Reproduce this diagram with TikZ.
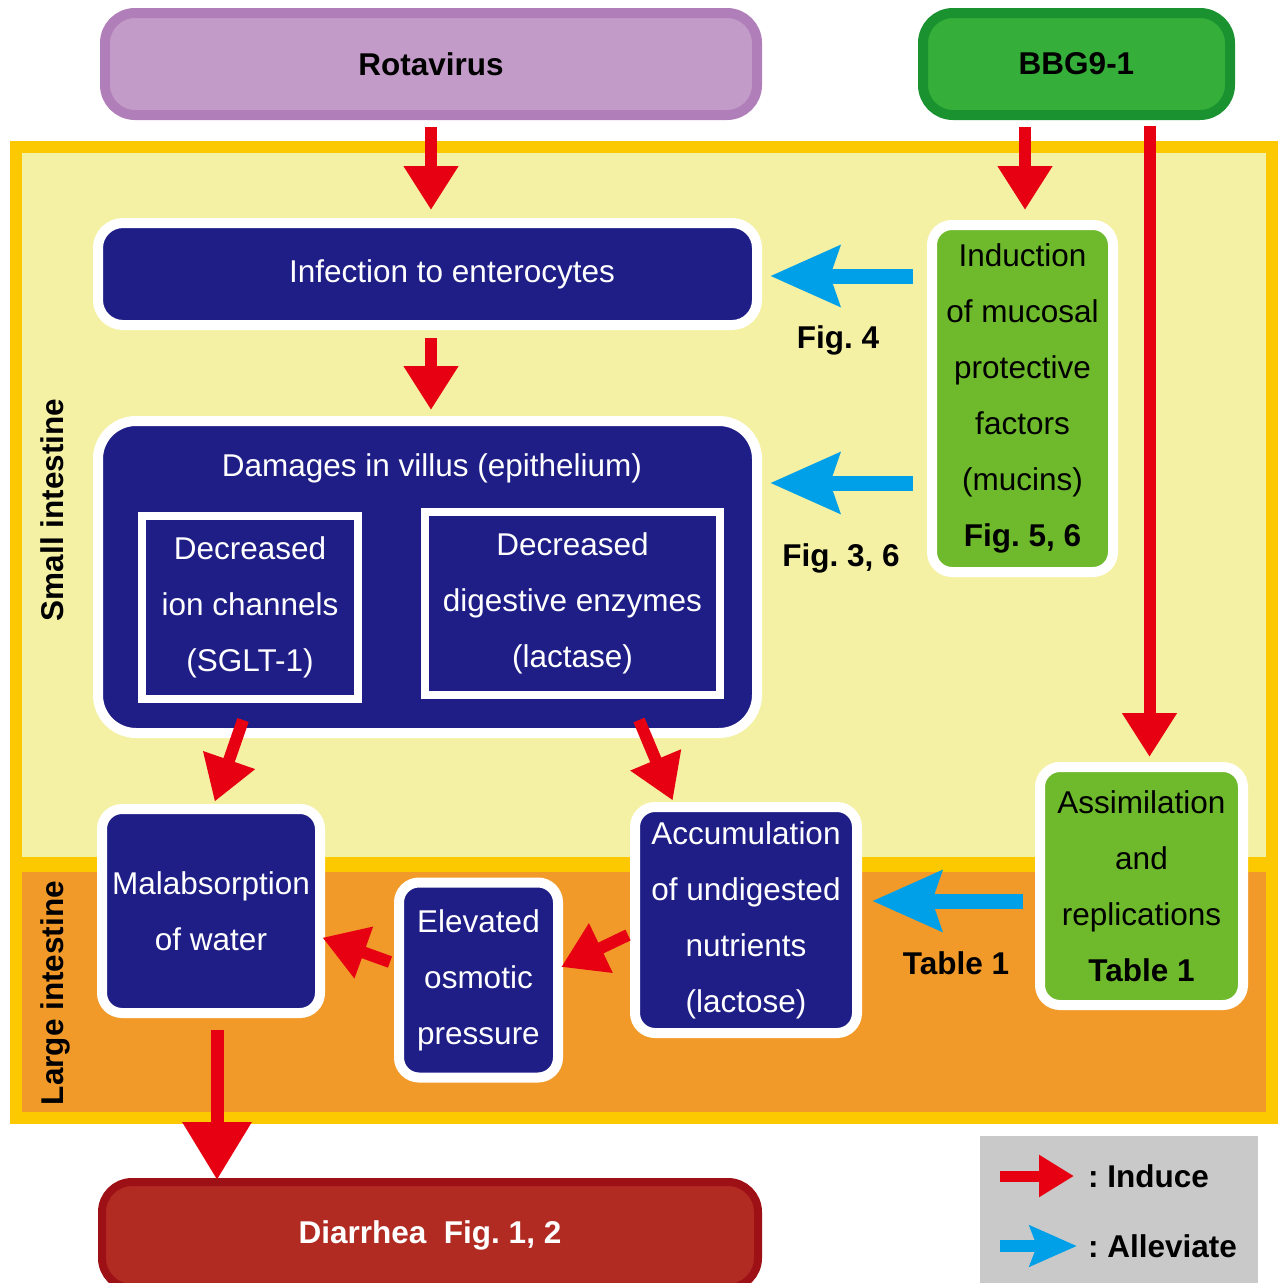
\documentclass[tikz,border=0pt]{standalone}
\usepackage{fontspec}
\setmainfont{Liberation Sans}
\usetikzlibrary{arrows.meta,calc}
\definecolor{navy}{RGB}{31,30,135}
\definecolor{purplefill}{RGB}{195,155,201}
\definecolor{purpleborder}{RGB}{176,126,184}
\definecolor{greenfill}{RGB}{53,174,58}
\definecolor{greenborder}{RGB}{26,146,48}
\definecolor{lgreen}{RGB}{110,185,44}
\definecolor{ired}{RGB}{230,0,18}
\definecolor{iblue}{RGB}{0,160,233}
\definecolor{yborder}{RGB}{252,200,0}
\definecolor{lyellow}{RGB}{245,241,164}
\definecolor{orangebg}{RGB}{241,154,42}
\definecolor{diafill}{RGB}{178,43,34}
\definecolor{diaborder}{RGB}{156,16,22}
\definecolor{lgray}{RGB}{201,201,201}
\newcommand\dfont{\fontsize{31.5pt}{56pt}\selectfont\frenchspacing}
\begin{document}
\begin{tikzpicture}[x=1pt,y=-1pt,
  navybox/.style={draw=white, line width=10pt, fill=navy, text=white, rounded corners=25pt, inner sep=0pt, align=center, font=\dfont},
  innerbox/.style={draw=white, line width=8pt, fill=navy, text=white, inner sep=0pt, align=center, font=\dfont},
  greenbox/.style={draw=white, line width=10pt, fill=lgreen, text=black, rounded corners=20pt, inner sep=0pt, align=center, font=\dfont},
  topbox/.style={line width=10pt, rounded corners=30pt, inner sep=0pt, align=center, font=\dfont\bfseries},
  figlabel/.style={font=\dfont\bfseries, inner sep=0pt, anchor=base},
  sidelabel/.style={font=\dfont\bfseries, inner sep=0pt, rotate=90, anchor=base},
  redarr/.style={draw=ired, line width=12pt, shorten >=-7pt, -{Triangle[length=44pt,width=52pt]}},
  bigredarr/.style={draw=ired, line width=13pt, shorten >=-7pt, -{Triangle[length=58pt,width=66pt]}},
  bluearr/.style={draw=iblue, line width=15pt, shorten >=-7pt, -{Stealth[length=69pt,width=59pt,inset=9pt]}},
  legtext/.style={font=\dfont\bfseries, inner sep=0pt, anchor=west}
]
\useasboundingbox (0,0) rectangle (1280,1283);
\fill[white] (0,0) rectangle (1280,1283);
% regions
\fill[yborder] (10,141) rectangle (1278,1124);
\fill[lyellow] (22,153) rectangle (1266,857);
\fill[orangebg] (22,872) rectangle (1266,1112);
\node[sidelabel] (small) at (63,510) {Small intestine};
\node[sidelabel] (large) at (63,993) {Large intestine};
% top boxes
\node[topbox, draw=purpleborder, fill=purplefill, minimum width=652pt, minimum height=102pt] (rota) at (431,64) {Rotavirus};
\node[topbox, draw=greenborder, fill=greenfill, minimum width=307pt, minimum height=102pt] (bbg) at (1076.5,64) {BBG9-1};
% main boxes
\node[navybox, minimum width=659pt, minimum height=102pt] (inf) at (427.5,274) {\hspace*{49pt}Infection to enterocytes};
\node[navybox, rounded corners=38pt, minimum width=659pt, minimum height=312pt] (dam) at (427.5,577) {};
\node[font=\dfont, text=white, inner sep=0pt] (damt) at (432,468) {Damages in villus (epithelium)};
\node[innerbox, minimum width=216pt, minimum height=183pt] (ion) at (250,607.5) {Decreased\\ion channels\\(SGLT-1)};
\node[innerbox, minimum width=295pt, minimum height=183pt] (dig) at (572.5,603.5) {Decreased\\digestive enzymes\\(lactase)};
\node[greenbox, minimum width=181pt, minimum height=347pt] (ind) at (1022.5,398.5) {Induction\\of mucosal\\protective\\factors\\(mucins)\\\textbf{Fig. 5, 6}};
\node[greenbox, minimum width=203pt, minimum height=238pt] (asm) at (1141.5,886) {Assimilation\\and\\replications\\\textbf{Table 1}};
\node[navybox, rounded corners=20pt, minimum width=218pt, minimum height=204pt] (mal) at (211,911) {Malabsorption\\of water};
\node[navybox, rounded corners=20pt, minimum width=159pt, minimum height=195pt] (elev) at (478.5,980) {Elevated\\osmotic\\pressure};
\node[navybox, rounded corners=20pt, minimum width=222pt, minimum height=226pt] (acc) at (746,920) {Accumulation\\of undigested\\nutrients\\(lactose)};
\node[topbox, line width=8pt, draw=diaborder, fill=diafill, text=white, minimum width=656pt, minimum height=106pt] (dia) at (430,1235) {Diarrhea\ \ Fig. 1, 2};
% figure labels
\node[figlabel] (f4) at (838,348) {Fig. 4};
\node[figlabel] (f36) at (841,566) {Fig. 3, 6};
\node[figlabel] (t1) at (956,974) {Table 1};
% red arrows
\draw[redarr] ($(rota.south)+(0,7)$) -- ($(rota.south |- inf.north)+(0,-15)$);
\draw[redarr] ($(inf.south)+(3.5,8)$) -- ($(dam.north)+(3.5,-13)$);
\draw[redarr] ($(bbg.south -| ind.north)+(2.5,7)$) -- ($(ind.north)+(2.5,-17)$);
\draw[redarr] ($(bbg.south -| asm.north)+(8,6)$) -- ($(asm.north)+(8,-12)$);
\draw[redarr] ($(dam.south)+(-184.5,-18)$) -- ($(mal.north)+(6,-9)$);
\draw[redarr] ($(dam.south)+(211.5,-18)$) -- ($(acc.north)+(-76,-8)$);
\draw[redarr] ($(acc.west)+(-2,15)$) -- ($(elev.east)+(4.5,-16)$);
\draw[redarr] ($(elev.west)+(-4,-18)$) -- ($(mal.east)+(4,29)$);
\draw[bigredarr] ($(mal.south)+(6,12)$) -- ($(mal.south |- dia.north)+(6,-5)$);
% blue arrows
\draw[bluearr] ($(inf.east -| ind.west)+(-14,2)$) -- ($(inf.east)+(15,2)$);
\draw[bluearr] ($(ind.west)+(-14,84.5)$) -- ($(dam.east |- ind.west)+(15,84.5)$);
\draw[bluearr] ($(asm.west)+(-12,15)$) -- ($(acc.east |- asm.west)+(17,15)$);
% legend
\fill[lgray] (980,1136) rectangle (1258,1290);
\coordinate (lr0) at (1000,1176);
\coordinate (lr1) at (1071,1176);
\coordinate (lb0) at (1000,1246);
\coordinate (lb1) at (1074,1246);
\draw[draw=ired, line width=11pt, shorten >=-3pt, -{Triangle[length=35pt,width=40pt]}] (lr0) -- (lr1);
\draw[draw=iblue, line width=12pt, shorten >=-3pt, -{Stealth[length=47pt,width=40pt,inset=7pt]}] (lb0) -- (lb1);
\node[legtext] (lind) at (1088,1176) {: Induce};
\node[legtext] (lall) at (1088,1246) {: Alleviate};
\end{tikzpicture}
\end{document}
